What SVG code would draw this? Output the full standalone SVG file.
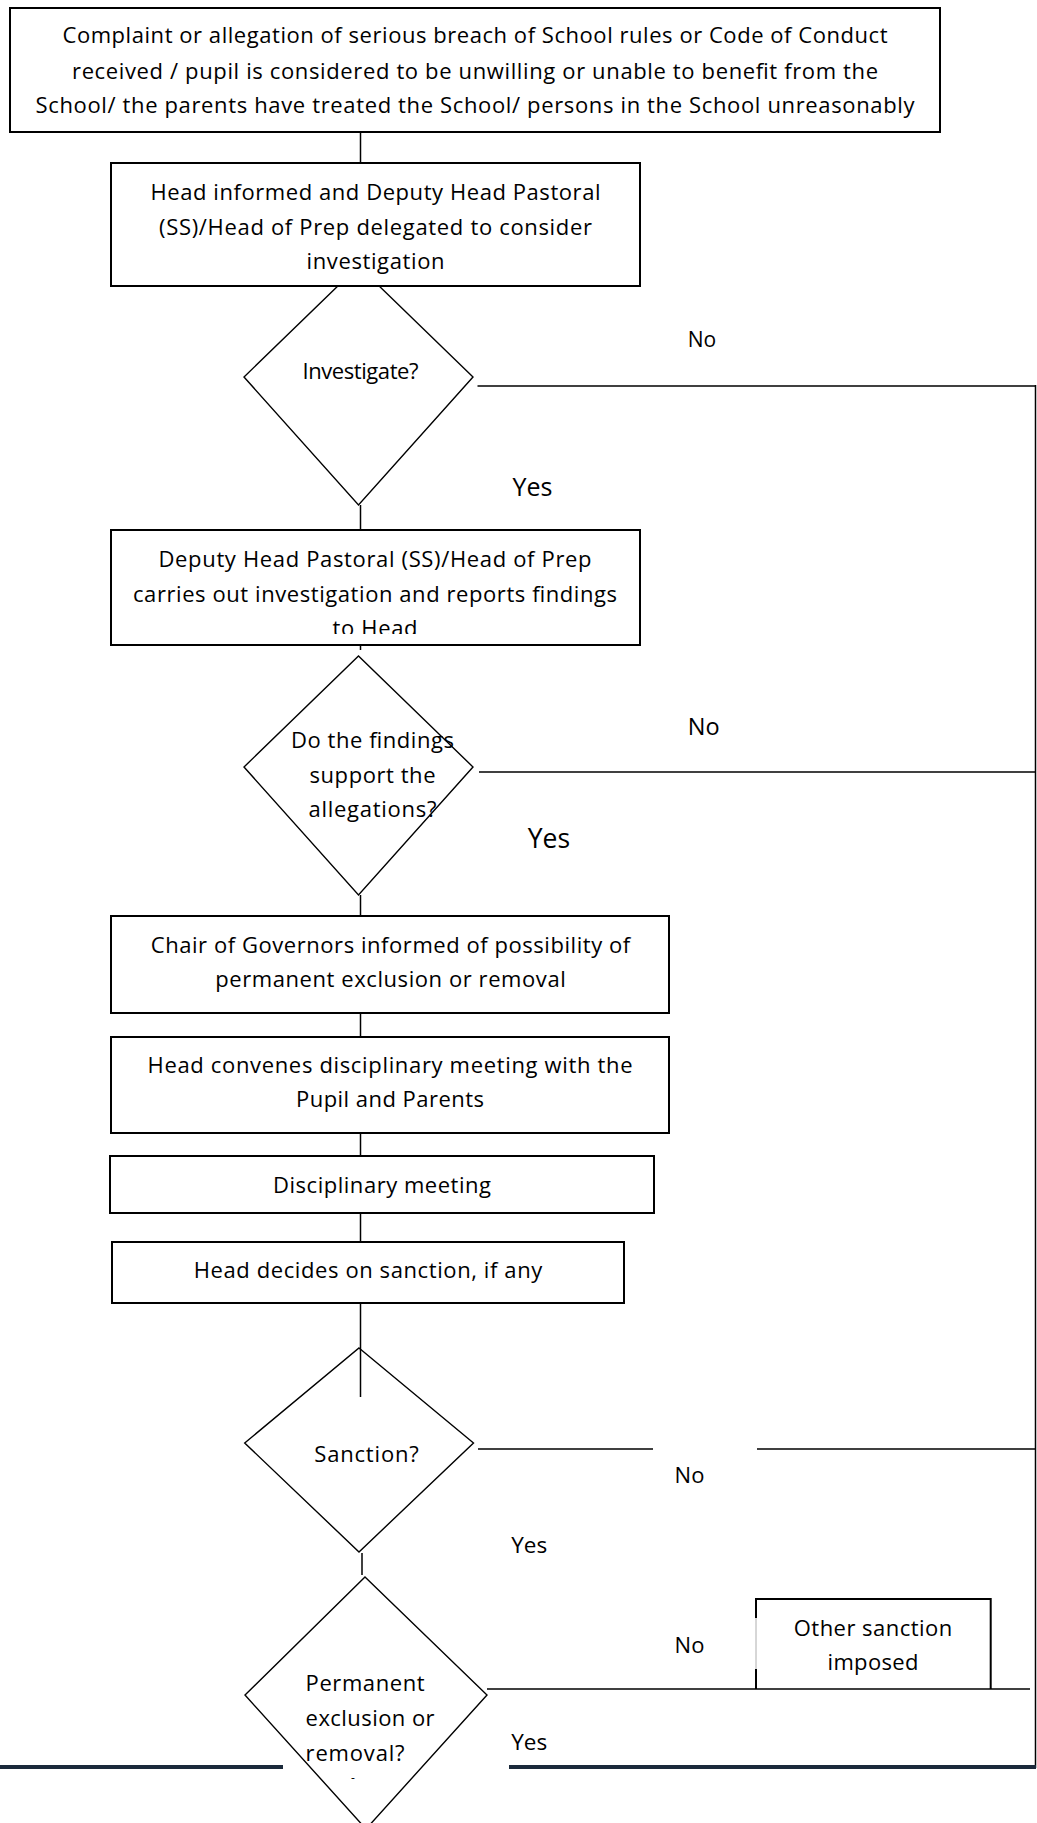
<svg xmlns="http://www.w3.org/2000/svg" width="1037" height="1823" viewBox="0 0 1037 1823">
<style>
.box{fill:#fff;stroke:#000;stroke-width:2}
.dia{fill:none;stroke:#000;stroke-width:1.4}
.ln{stroke:#000;stroke-width:1.5;fill:none}
.t{font-family:"Open Sans","Noto Sans",sans-serif;font-size:22px;fill:#000}
.m{text-anchor:middle}
</style>
<defs>
<clipPath id="clip3"><rect x="100" y="520" width="560" height="114"/></clipPath>
</defs>
<rect width="1037" height="1823" fill="#fff"/>
<g id="connectors">
<line class="ln" x1="360.5" y1="132" x2="360.5" y2="163"/>
<line class="ln" x1="360.5" y1="505" x2="360.5" y2="530"/>
<line class="ln" x1="360.5" y1="645" x2="360.5" y2="650"/>
<line class="ln" x1="360.5" y1="895" x2="360.5" y2="916"/>
<line class="ln" x1="360.5" y1="1013" x2="360.5" y2="1037"/>
<line class="ln" x1="360.5" y1="1133" x2="360.5" y2="1156"/>
<line class="ln" x1="360.5" y1="1213" x2="360.5" y2="1242"/>
<line class="ln" x1="360.5" y1="1303" x2="360.5" y2="1397"/>
<line class="ln" x1="362" y1="1553" x2="362" y2="1575" stroke-width="2"/>
<line class="ln" x1="477.5" y1="386" x2="1036" y2="386" stroke-width="2"/>
<line class="ln" x1="1035.5" y1="385" x2="1035.5" y2="1768" stroke-width="2"/>
<line class="ln" x1="479" y1="772" x2="1036" y2="772" stroke-width="2.5"/>
<line class="ln" x1="478" y1="1449" x2="653" y2="1449" stroke-width="2"/>
<line class="ln" x1="757" y1="1449" x2="1036" y2="1449" stroke-width="2"/>
<line class="ln" x1="487" y1="1689" x2="1030" y2="1689" stroke-width="2"/>
<line x1="0" y1="1767" x2="283" y2="1767" stroke="#1b2a3b" stroke-width="4"/>
<line x1="509" y1="1767" x2="1036" y2="1767" stroke="#1b2a3b" stroke-width="4"/>
<text class="t" x="687.8" y="346.7" style="font-size:21px">No</text>
<text class="t" x="512.6" y="496" style="font-size:25px">Yes</text>
<text class="t" x="687.8" y="735" style="font-size:23.5px">No</text>
<text class="t" x="527.8" y="847.7" style="font-size:26.5px">Yes</text>
<text class="t" x="674.6" y="1482.7">No</text>
<text class="t" x="511.2" y="1553.3" style="font-size:22.5px">Yes</text>
<text class="t" x="674.6" y="1653.3">No</text>
<text class="t" x="511.2" y="1750" style="font-size:22.5px">Yes</text>
</g>
<g id="n1">
<rect class="box" x="10" y="8" width="930" height="124"/>
<text class="t m" x="475" y="43.3" textLength="825">Complaint or allegation of serious breach of School rules or Code of Conduct</text>
<text class="t m" x="475" y="79" textLength="806">received / pupil is considered to be unwilling or unable to benefit from the</text>
<text class="t m" x="475" y="113.3" textLength="879">School/ the parents have treated the School/ persons in the School unreasonably</text>
</g>
<g id="d1">
<polygon class="dia" points="358.5,266 473,377 358.5,505 244,377"/>
<text class="t m" x="360.5" y="379.3" textLength="116">Investigate?</text>
</g>
<g id="n2">
<rect class="box" x="111" y="163" width="529" height="123"/>
<text class="t m" x="375.5" y="200" textLength="450">Head informed and Deputy Head Pastoral</text>
<text class="t m" x="375.5" y="235" textLength="433">(SS)/Head of Prep delegated to consider</text>
<text class="t m" x="375.5" y="269.3" textLength="138">investigation</text>
</g>
<g id="n3">
<rect class="box" x="111" y="530" width="529" height="115"/>
<text class="t m" x="375" y="566.7" textLength="433">Deputy Head Pastoral (SS)/Head of Prep</text>
<text class="t m" x="375" y="601.7" textLength="484">carries out investigation and reports findings</text>
<text class="t m" x="375" y="635.7" textLength="85" clip-path="url(#clip3)">to Head</text>
</g>
<g id="d2">
<polygon class="dia" points="358.5,656 473,767 358.5,895 244,767"/>
<text class="t m" x="372.5" y="748.3" textLength="163">Do the findings</text>
<text class="t m" x="372.5" y="783.3" textLength="126">support the</text>
<text class="t m" x="372.5" y="816.7" textLength="128">allegations?</text>
</g>
<g id="n4">
<rect class="box" x="111" y="916" width="558" height="97"/>
<text class="t m" x="390.5" y="952.7" textLength="479.5">Chair of Governors informed of possibility of</text>
<text class="t m" x="390.5" y="986.7" textLength="350.5">permanent exclusion or removal</text>
</g>
<g id="n5">
<rect class="box" x="111" y="1037" width="558" height="96"/>
<text class="t m" x="390" y="1073.3" textLength="485">Head convenes disciplinary meeting with the</text>
<text class="t m" x="390" y="1107.3" textLength="188">Pupil and Parents</text>
</g>
<g id="n6">
<rect class="box" x="110" y="1156" width="544" height="57"/>
<text class="t m" x="382" y="1192.7" textLength="218">Disciplinary meeting</text>
</g>
<g id="n7">
<rect class="box" x="112" y="1242" width="512" height="61"/>
<text class="t m" x="368" y="1278.3" textLength="348.5">Head decides on sanction, if any</text>
</g>
<g id="d3">
<polygon class="dia" points="359,1348 473.5,1443 359,1552 244.7,1443"/>
<text class="t m" x="366.5" y="1461.7" textLength="104.5">Sanction?</text>
</g>
<g id="d4">
<polygon class="dia" points="365,1577 487,1695 366,1829 245,1695"/>
<text class="t" x="305.6" y="1691" textLength="119">Permanent</text>
<text class="t" x="305.6" y="1726" textLength="129">exclusion or</text>
<text class="t" x="305.6" y="1761" textLength="99">removal?</text>
<text class="t" x="351" y="1782" style="font-size:12px">-</text>
</g>
<g id="n8">
<path d="M756,1599 H990.7 V1689" fill="none" stroke="#000" stroke-width="2"/>
<line x1="756" y1="1598" x2="756" y2="1618" stroke="#000" stroke-width="2"/>
<line x1="756" y1="1618" x2="756" y2="1669" stroke="#999" stroke-width="0.8"/>
<line x1="756" y1="1669" x2="756" y2="1689" stroke="#000" stroke-width="2"/>
<text class="t m" x="873" y="1636" textLength="158.5">Other sanction</text>
<text class="t m" x="873" y="1670" textLength="91">imposed</text>
</g>
</svg>
